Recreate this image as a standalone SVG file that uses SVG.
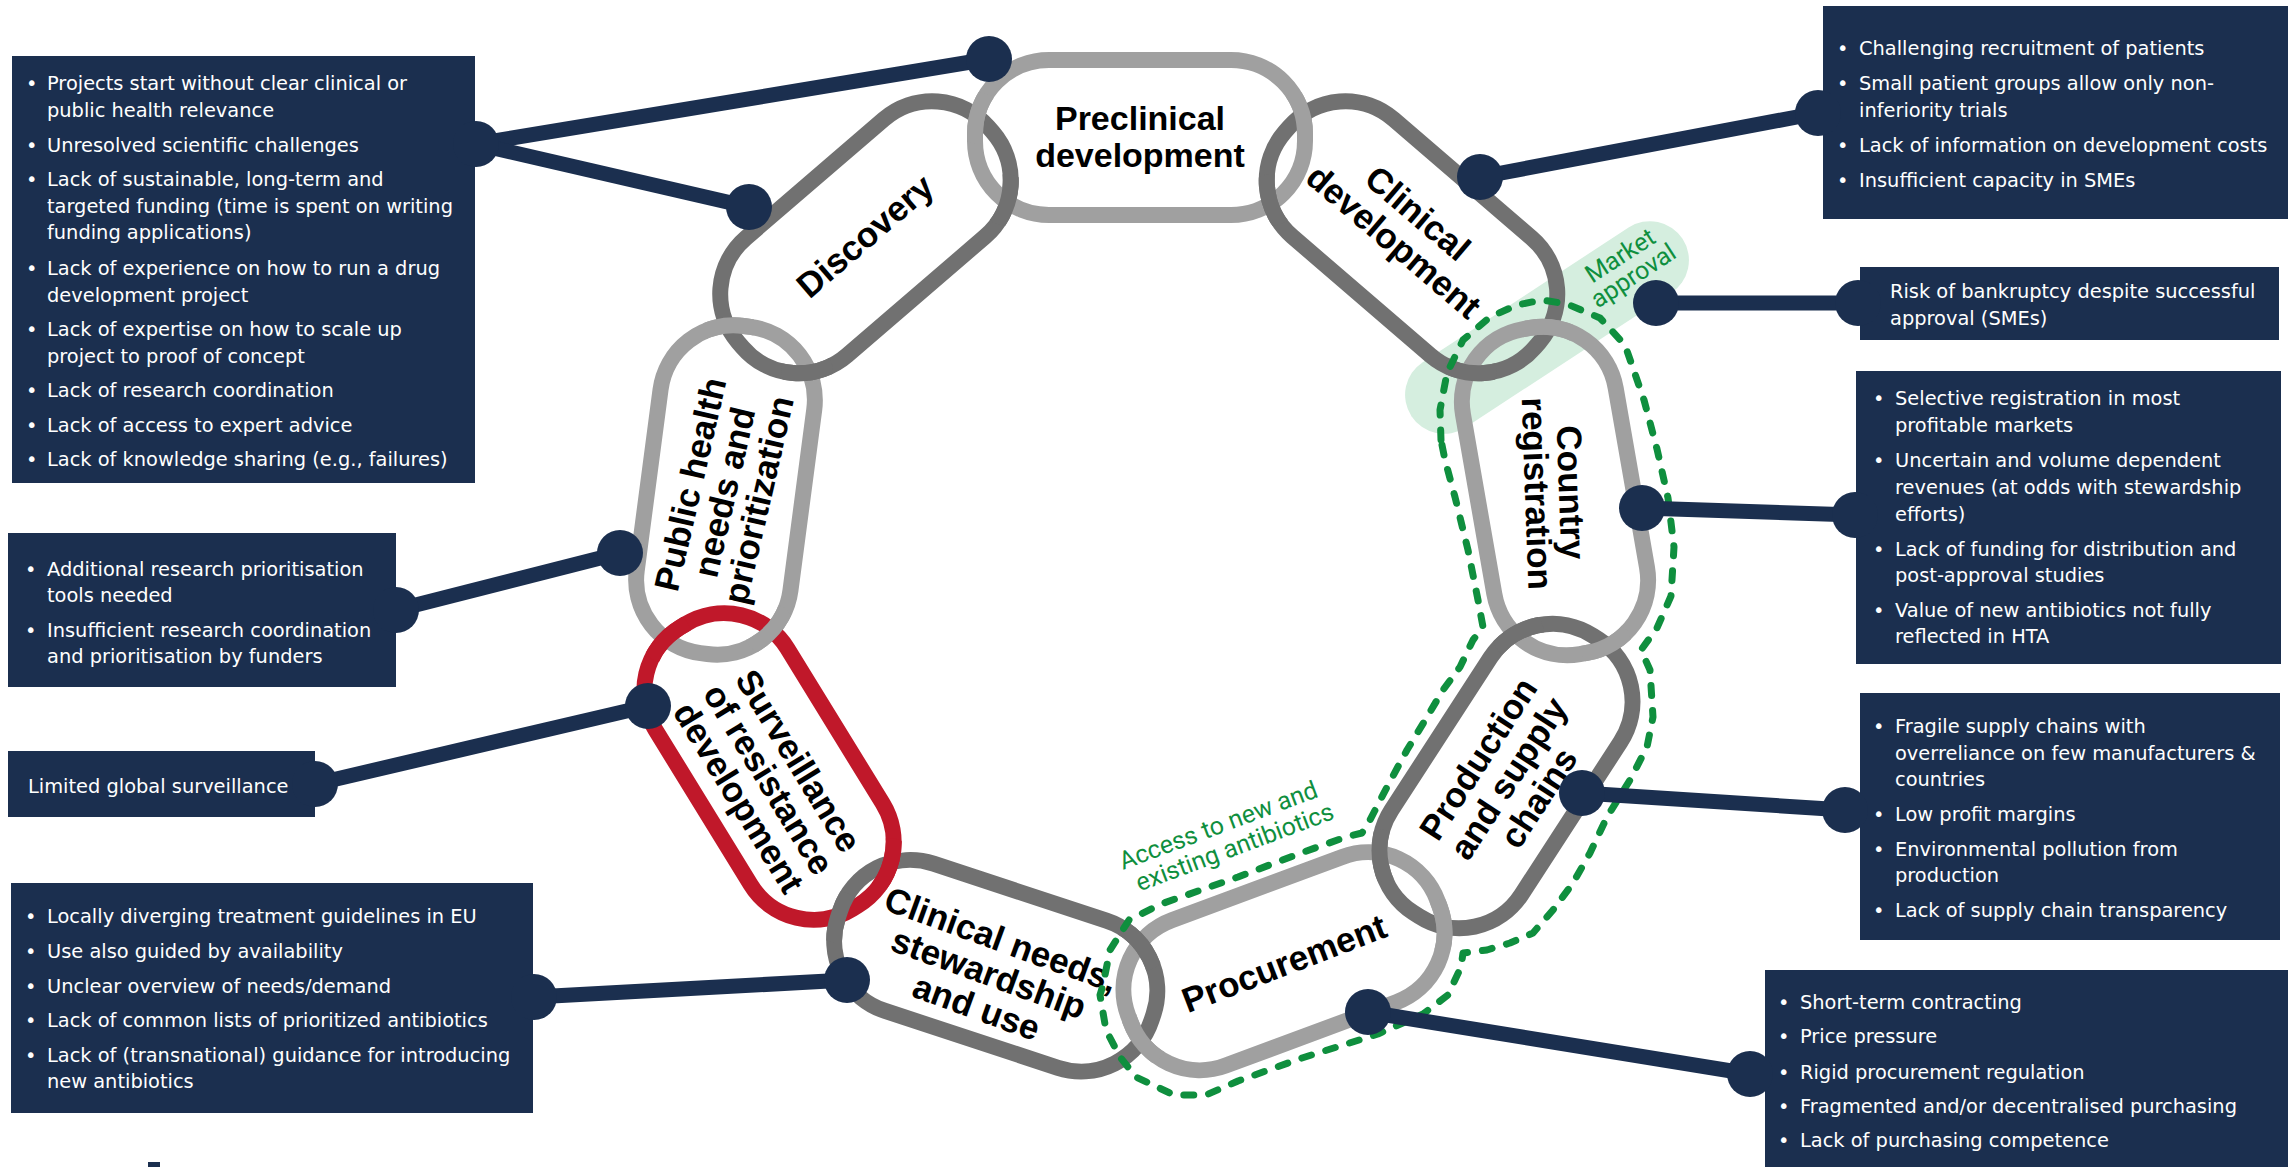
<svg xmlns="http://www.w3.org/2000/svg" width="2288" height="1167" viewBox="0 0 2288 1167">
<style>
.box{fill:#1b2f4f}
.bt{font-family:"DejaVu Sans",Verdana,sans-serif;font-size:19.4px;fill:#ffffff}
.lbl{font-family:"Liberation Sans",Arial,sans-serif;font-weight:bold;font-size:35px;fill:#000000;text-anchor:middle}
.lk{fill:none;stroke-width:16}
.lt{stroke:#a0a0a0}
.dk{stroke:#717171}
.rd{stroke:#c0182a}
.con{stroke:#1b2f4f;stroke-width:15;fill:none}
.dot{fill:#1b2f4f}
.gr{font-family:Roboto,"Liberation Sans",sans-serif;font-size:25px;fill:#0f8f3e}
.dash{fill:none;stroke:#0f8f3e;stroke-width:7;stroke-dasharray:10 15;stroke-linecap:round;stroke-linejoin:round}
</style>
<defs>
<rect id="link" x="-165" y="-77.5" width="330" height="155" rx="74"/>
<clipPath id="c1o"><circle cx="729" cy="326.5" r="26"/></clipPath>
<clipPath id="c1i"><circle cx="807" cy="371" r="26"/></clipPath>
<clipPath id="c2o"><circle cx="977.5" cy="118" r="26"/></clipPath>
<clipPath id="c2i"><circle cx="1006.5" cy="200" r="26"/></clipPath>
<clipPath id="c3o"><circle cx="1300" cy="118" r="26"/></clipPath>
<clipPath id="c3i"><circle cx="1271" cy="200" r="26"/></clipPath>
<clipPath id="c4o"><circle cx="1547.6" cy="328.4" r="26"/></clipPath>
<clipPath id="c4i"><circle cx="1470.9" cy="371" r="26"/></clipPath>
<clipPath id="c5o"><circle cx="1605.5" cy="645.3" r="26"/></clipPath>
<clipPath id="c5i"><circle cx="1518.3" cy="634" r="26"/></clipPath>
<clipPath id="c6o"><circle cx="1442.2" cy="924.9" r="26"/></clipPath>
<clipPath id="c6i"><circle cx="1381.5" cy="855.7" r="26"/></clipPath>
<clipPath id="c7o"><circle cx="1142" cy="1039" r="26"/></clipPath>
<clipPath id="c7i"><circle cx="1141" cy="945.8" r="26"/></clipPath>
<clipPath id="c8o"><circle cx="837.5" cy="917" r="26"/></clipPath>
<clipPath id="c8i"><circle cx="890" cy="864" r="26"/></clipPath>
<clipPath id="c9o"><circle cx="666" cy="637.2" r="26"/></clipPath>
<clipPath id="c9i"><circle cx="770" cy="629.8" r="26"/></clipPath>
</defs>
<rect width="2288" height="1167" fill="#ffffff"/>

<!-- Market approval band -->
<g id="market-approval-band">
<rect x="-162" y="-39" width="324" height="78" rx="39" fill="#d5eedf" transform="translate(1547,327.5) rotate(-33.2)"/>
</g>

<!-- chain links -->
<g id="links">
<g id="link-public-health"><use href="#link" class="lk lt" transform="translate(725.5,490) rotate(-82.5)"/></g>
<g id="link-discovery"><use href="#link" class="lk dk" transform="translate(865.5,237.25) rotate(-40.7)"/></g>
<g id="link-preclinical"><use href="#link" class="lk lt" transform="translate(1140,137.5)"/></g>
<g id="link-clinical-development"><use href="#link" class="lk dk" transform="translate(1412,237.25) rotate(40.7)"/></g>
<g id="link-country-registration"><use href="#link" class="lk lt" transform="translate(1555,491) rotate(80.1)"/></g>
<g id="link-production"><use href="#link" class="lk dk" transform="translate(1506,776) rotate(-57)"/></g>
<g id="link-procurement"><use href="#link" class="lk lt" transform="translate(1284,961.25) rotate(-20.4)"/></g>
<g id="link-clinical-needs"><use href="#link" class="lk dk" transform="translate(995.75,965.75) rotate(18.2)"/></g>
<g id="link-surveillance"><use href="#link" class="lk rd" transform="translate(769,766.5) rotate(58.4)"/></g>
</g>

<!-- interlocking overlaps -->
<g id="interlock">
<g clip-path="url(#c1o)"><use href="#link" class="lk lt" transform="translate(725.5,490) rotate(-82.5)"/></g>
<g clip-path="url(#c1i)"><use href="#link" class="lk dk" transform="translate(865.5,237.25) rotate(-40.7)"/></g>
<g clip-path="url(#c2o)"><use href="#link" class="lk lt" transform="translate(1140,137.5)"/></g>
<g clip-path="url(#c2i)"><use href="#link" class="lk dk" transform="translate(865.5,237.25) rotate(-40.7)"/></g>
<g clip-path="url(#c3o)"><use href="#link" class="lk lt" transform="translate(1140,137.5)"/></g>
<g clip-path="url(#c3i)"><use href="#link" class="lk dk" transform="translate(1412,237.25) rotate(40.7)"/></g>
<g clip-path="url(#c4o)"><use href="#link" class="lk lt" transform="translate(1555,491) rotate(80.1)"/></g>
<g clip-path="url(#c4i)"><use href="#link" class="lk dk" transform="translate(1412,237.25) rotate(40.7)"/></g>
<g clip-path="url(#c5o)"><use href="#link" class="lk lt" transform="translate(1555,491) rotate(80.1)"/></g>
<g clip-path="url(#c5i)"><use href="#link" class="lk dk" transform="translate(1506,776) rotate(-57)"/></g>
<g clip-path="url(#c6o)"><use href="#link" class="lk lt" transform="translate(1284,961.25) rotate(-20.4)"/></g>
<g clip-path="url(#c6i)"><use href="#link" class="lk dk" transform="translate(1506,776) rotate(-57)"/></g>
<g clip-path="url(#c7o)"><use href="#link" class="lk lt" transform="translate(1284,961.25) rotate(-20.4)"/></g>
<g clip-path="url(#c7i)"><use href="#link" class="lk dk" transform="translate(995.75,965.75) rotate(18.2)"/></g>
<g clip-path="url(#c8o)"><use href="#link" class="lk dk" transform="translate(995.75,965.75) rotate(18.2)"/></g>
<g clip-path="url(#c8i)"><use href="#link" class="lk rd" transform="translate(769,766.5) rotate(58.4)"/></g>
<g clip-path="url(#c9o)"><use href="#link" class="lk rd" transform="translate(769,766.5) rotate(58.4)"/></g>
<g clip-path="url(#c9i)"><use href="#link" class="lk lt" transform="translate(725.5,490) rotate(-82.5)"/></g>
</g>

<!-- link labels -->
<g id="labels">
<text class="lbl" transform="translate(1140,137.5)" style="font-size:34px"><tspan x="0" y="-8">Preclinical</tspan><tspan x="0" y="29">development</tspan></text>
<text class="lbl" transform="translate(865,236) rotate(-40.7)"><tspan x="0" y="12">Discovery</tspan></text>
<text class="lbl" transform="translate(1406,227) rotate(40.4)"><tspan x="0" y="-6">Clinical</tspan><tspan x="0" y="31">development</tspan></text>
<text class="lbl" transform="translate(1554,493) rotate(88)"><tspan x="0" y="-5">Country</tspan><tspan x="0" y="29">registration</tspan></text>
<text class="lbl" transform="translate(1508,778) rotate(-57)"><tspan x="0" y="-23.5">Production</tspan><tspan x="0" y="12.5">and supply</tspan><tspan x="0" y="48.5">chains</tspan></text>
<text class="lbl" transform="translate(1284,963) rotate(-21)"><tspan x="0" y="12.5">Procurement</tspan></text>
<text class="lbl" transform="translate(989,973) rotate(20)"><tspan x="0" y="-23.5">Clinical needs,</tspan><tspan x="0" y="12.5">stewardship</tspan><tspan x="0" y="48.5">and use</tspan></text>
<text class="lbl" transform="translate(769,779) rotate(58.5)"><tspan x="0" y="-22.5">Surveillance</tspan><tspan x="0" y="12.5">of resistance</tspan><tspan x="0" y="47.5">development</tspan></text>
<text class="lbl" transform="translate(724,492) rotate(-77)"><tspan x="0" y="-22.5">Public health</tspan><tspan x="0" y="12.5">needs and</tspan><tspan x="0" y="47.5">prioritization</tspan></text>
</g>

<!-- green access outline -->
<g id="access-outline">
<path class="dash" d="M1441,440 L1440,410 L1447,373 L1463,340 L1490,317 L1517,305 L1542,300 L1567,304 L1600,318 L1625,345 L1644,400 L1657,449 L1668,498 L1674,547 L1671,596 L1657,628 L1641,650 L1650,670 L1653,717 L1647,747 L1630,780 L1607,817 L1590,853 L1573,883 L1553,910 L1533,933 L1510,943 L1487,950 L1463,953 L1461,967 L1448,995 L1423,1014 L1378,1034 L1302,1058 L1238,1081 L1206,1095 L1174,1095 L1136,1077 L1120,1057 L1106,1030 L1100,995 L1103,985 L1110,950 L1129,920 L1161,904 L1238,877 L1301,853 L1346,837 L1362,833 L1370,820 L1387,787 L1407,750 L1427,717 L1443,690 L1460,667 L1473,640 L1483,627 L1478,600 L1468,550 L1455,497 L1445,460 Z"/>
<text class="gr" transform="translate(1627,266) rotate(-33)" text-anchor="middle"><tspan x="0" y="-4">Market</tspan><tspan x="0" y="20">approval</tspan></text>
<text class="gr" transform="translate(1123,870) rotate(-20.5)"><tspan x="0" y="0">Access to new and</tspan><tspan x="8" y="26">existing antibiotics</tspan></text>
</g>

<!-- connectors -->
<g id="connectors">
<line class="con" x1="476" y1="144" x2="989" y2="59"/>
<line class="con" x1="476" y1="144" x2="749" y2="207"/>
<line class="con" x1="396" y1="610" x2="620" y2="553"/>
<line class="con" x1="315" y1="784" x2="648" y2="706"/>
<line class="con" x1="534" y1="997" x2="847" y2="980"/>
<line class="con" x1="1480" y1="177" x2="1818" y2="113"/>
<line class="con" x1="1656" y1="303" x2="1858" y2="303"/>
<line class="con" x1="1642" y1="508" x2="1855" y2="515"/>
<line class="con" x1="1582" y1="793" x2="1845" y2="810"/>
<line class="con" x1="1368" y1="1012" x2="1750" y2="1074"/>
<circle class="dot" cx="989" cy="59" r="23"/>
<circle class="dot" cx="749" cy="207" r="23"/>
<circle class="dot" cx="620" cy="553" r="23"/>
<circle class="dot" cx="648" cy="706" r="23"/>
<circle class="dot" cx="847" cy="980" r="23"/>
<circle class="dot" cx="1480" cy="177" r="23"/>
<circle class="dot" cx="1656" cy="303" r="23"/>
<circle class="dot" cx="1642" cy="508" r="23"/>
<circle class="dot" cx="1582" cy="793" r="23"/>
<circle class="dot" cx="1368" cy="1012" r="23"/>
</g>

<!-- issue boxes -->
<g id="box-discovery">
<rect class="box" x="12" y="56" width="463" height="427"/>
<circle class="dot" cx="476" cy="144" r="23"/>
<text class="bt">
<tspan x="26" y="90">•</tspan><tspan x="47" y="90">Projects start without clear clinical or</tspan>
<tspan x="47" y="117">public health relevance</tspan>
<tspan x="26" y="152">•</tspan><tspan x="47" y="152">Unresolved scientific challenges</tspan>
<tspan x="26" y="186">•</tspan><tspan x="47" y="186">Lack of sustainable, long-term and</tspan>
<tspan x="47" y="213">targeted funding (time is spent on writing</tspan>
<tspan x="47" y="239">funding applications)</tspan>
<tspan x="26" y="275">•</tspan><tspan x="47" y="275">Lack of experience on how to run a drug</tspan>
<tspan x="47" y="302">development project</tspan>
<tspan x="26" y="336">•</tspan><tspan x="47" y="336">Lack of expertise on how to scale up</tspan>
<tspan x="47" y="363">project to proof of concept</tspan>
<tspan x="26" y="397">•</tspan><tspan x="47" y="397">Lack of research coordination</tspan>
<tspan x="26" y="432">•</tspan><tspan x="47" y="432">Lack of access to expert advice</tspan>
<tspan x="26" y="466">•</tspan><tspan x="47" y="466">Lack of knowledge sharing (e.g., failures)</tspan>
</text>
</g>

<g id="box-public-health">
<rect class="box" x="8" y="533" width="388" height="154"/>
<circle class="dot" cx="396" cy="610" r="23"/>
<text class="bt">
<tspan x="25" y="576">•</tspan><tspan x="47" y="576">Additional research prioritisation</tspan>
<tspan x="47" y="602">tools needed</tspan>
<tspan x="25" y="637">•</tspan><tspan x="47" y="637">Insufficient research coordination</tspan>
<tspan x="47" y="663">and prioritisation by funders</tspan>
</text>
</g>

<g id="box-surveillance">
<rect class="box" x="8" y="751" width="307" height="66"/>
<circle class="dot" cx="315" cy="784" r="23"/>
<text class="bt" x="28" y="793">Limited global surveillance</text>
</g>

<g id="box-clinical-needs">
<rect class="box" x="11" y="883" width="522" height="230"/>
<circle class="dot" cx="534" cy="997" r="23"/>
<text class="bt">
<tspan x="25" y="923">•</tspan><tspan x="47" y="923">Locally diverging treatment guidelines in EU</tspan>
<tspan x="25" y="958">•</tspan><tspan x="47" y="958">Use also guided by availability</tspan>
<tspan x="25" y="993">•</tspan><tspan x="47" y="993">Unclear overview of needs/demand</tspan>
<tspan x="25" y="1027">•</tspan><tspan x="47" y="1027">Lack of common lists of prioritized antibiotics</tspan>
<tspan x="25" y="1062">•</tspan><tspan x="47" y="1062">Lack of (transnational) guidance for introducing</tspan>
<tspan x="47" y="1088">new antibiotics</tspan>
</text>
</g>

<g id="box-clinical-development">
<rect class="box" x="1823" y="6" width="465" height="213"/>
<circle class="dot" cx="1818" cy="113" r="23"/>
<text class="bt">
<tspan x="1837" y="55">•</tspan><tspan x="1859" y="55">Challenging recruitment of patients</tspan>
<tspan x="1837" y="90">•</tspan><tspan x="1859" y="90">Small patient groups allow only non-</tspan>
<tspan x="1859" y="117">inferiority trials</tspan>
<tspan x="1837" y="152">•</tspan><tspan x="1859" y="152">Lack of information on development costs</tspan>
<tspan x="1837" y="187">•</tspan><tspan x="1859" y="187">Insufficient capacity in SMEs</tspan>
</text>
</g>

<g id="box-market-approval">
<rect class="box" x="1860" y="267" width="419" height="73"/>
<circle class="dot" cx="1858" cy="303" r="23"/>
<text class="bt">
<tspan x="1890" y="298">Risk of bankruptcy despite successful</tspan>
<tspan x="1890" y="325">approval (SMEs)</tspan>
</text>
</g>

<g id="box-country-registration">
<rect class="box" x="1856" y="371" width="425" height="293"/>
<circle class="dot" cx="1855" cy="515" r="23"/>
<text class="bt">
<tspan x="1873" y="405">•</tspan><tspan x="1895" y="405">Selective registration in most</tspan>
<tspan x="1895" y="432">profitable markets</tspan>
<tspan x="1873" y="467">•</tspan><tspan x="1895" y="467">Uncertain and volume dependent</tspan>
<tspan x="1895" y="494">revenues (at odds with stewardship</tspan>
<tspan x="1895" y="521">efforts)</tspan>
<tspan x="1873" y="556">•</tspan><tspan x="1895" y="556">Lack of funding for distribution and</tspan>
<tspan x="1895" y="582">post-approval studies</tspan>
<tspan x="1873" y="617">•</tspan><tspan x="1895" y="617">Value of new antibiotics not fully</tspan>
<tspan x="1895" y="643">reflected in HTA</tspan>
</text>
</g>

<g id="box-production">
<rect class="box" x="1860" y="693" width="420" height="247"/>
<circle class="dot" cx="1845" cy="810" r="23"/>
<text class="bt">
<tspan x="1873" y="733">•</tspan><tspan x="1895" y="733">Fragile supply chains with</tspan>
<tspan x="1895" y="760">overreliance on few manufacturers &amp;</tspan>
<tspan x="1895" y="786">countries</tspan>
<tspan x="1873" y="821">•</tspan><tspan x="1895" y="821">Low profit margins</tspan>
<tspan x="1873" y="856">•</tspan><tspan x="1895" y="856">Environmental pollution from</tspan>
<tspan x="1895" y="882">production</tspan>
<tspan x="1873" y="917">•</tspan><tspan x="1895" y="917">Lack of supply chain transparency</tspan>
</text>
</g>

<g id="box-procurement">
<rect class="box" x="1765" y="970" width="523" height="197"/>
<circle class="dot" cx="1750" cy="1074" r="23"/>
<text class="bt">
<tspan x="1778" y="1009">•</tspan><tspan x="1800" y="1009">Short-term contracting</tspan>
<tspan x="1778" y="1043">•</tspan><tspan x="1800" y="1043">Price pressure</tspan>
<tspan x="1778" y="1079">•</tspan><tspan x="1800" y="1079">Rigid procurement regulation</tspan>
<tspan x="1778" y="1113">•</tspan><tspan x="1800" y="1113">Fragmented and/or decentralised purchasing</tspan>
<tspan x="1778" y="1147">•</tspan><tspan x="1800" y="1147">Lack of purchasing competence</tspan>
</text>
</g>

<rect class="box" x="148" y="1162" width="12" height="5"/>
</svg>
